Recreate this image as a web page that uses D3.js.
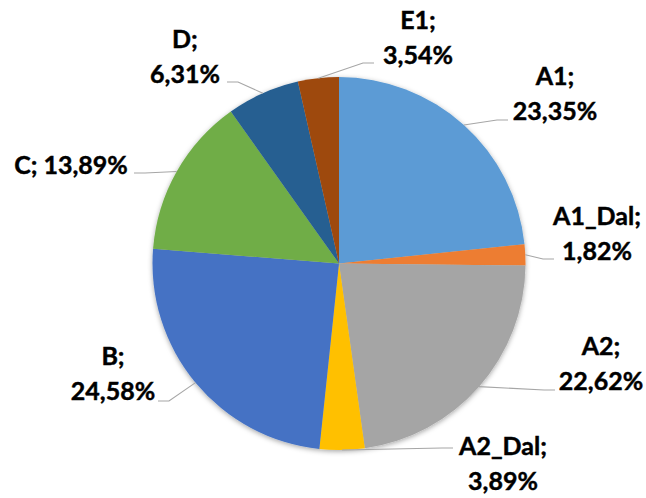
<!DOCTYPE html>
<html>
<head>
<meta charset="utf-8">
<script src="https://cdn.jsdelivr.net/npm/d3@7"></script>
<style>
  body { margin: 0; background: #fff; }
  svg { display: block; }
</style>
</head>
<body>
<svg width="646" height="498"></svg>
<script>
// slice data, clockwise from 12 o'clock
var categories = ["A1", "A1_Dal", "A2", "A2_Dal", "B", "C", "D", "E1"];
var shares = [23.35, 1.82, 22.62, 3.89, 24.58, 13.89, 6.31, 3.54];
var shareLabels = ["23,35%", "1,82%", "22,62%", "3,89%", "24,58%", "13,89%", "6,31%", "3,54%"];
var colors = ["#5b9bd5", "#ed7d31", "#a5a5a5", "#ffc000", "#4472c4", "#70ad47", "#255e91", "#9e480e"];

// label placement (as moved by hand in the original): [centre x, first baseline]
var labelAt = [[555, 85], [597, 225], [601, 355], [503, 455], [113, 365], [71, 174], [185, 48], [418, 29]];
var leaderEnd = [[508, 120], [554, 259], [555, 390], [453, 448], [158, 401], [134, 173], [227, 82], [374, 63]];
var oneLine = ["C"];

var svg = d3.select("svg"),
    cx = 339, cy = 263.5, radius = 186.5,
    lineGap = 34.5;

var defs = svg.append("defs");
var f = defs.append("filter").attr("id", "shadow")
    .attr("x", "-10%").attr("y", "-10%").attr("width", "120%").attr("height", "120%");
f.append("feDropShadow")
    .attr("dx", 0).attr("dy", 1.5)
    .attr("stdDeviation", 2.5)
    .attr("flood-color", "#000")
    .attr("flood-opacity", 0.35);

var data = categories.map(function(c, i) { return {name: c, value: shares[i], label: shareLabels[i], i: i}; });

var pie = d3.pie()
    .sort(null)
    .value(function(d) { return d.value; });

var arc = d3.arc().innerRadius(0).outerRadius(radius);
var edge = d3.arc().innerRadius(radius).outerRadius(radius);

var color = d3.scaleOrdinal().domain(categories).range(colors);

var g = svg.append("g").attr("transform", "translate(" + cx + "," + cy + ")");

g.append("g")
    .attr("filter", "url(#shadow)")
  .selectAll("path")
  .data(pie(data))
  .enter().append("path")
    .attr("d", arc)
    .attr("fill", function(d) { return color(d.data.name); });

// leader lines
svg.append("g")
  .selectAll("polyline")
  .data(pie(data))
  .enter().append("polyline")
    .attr("fill", "none")
    .attr("stroke", "#a6a6a6")
    .attr("stroke-width", 1.1)
    .attr("points", function(d) {
      var p = edge.centroid(d),
          e = leaderEnd[d.data.i],
          sx = cx + p[0], sy = cy + p[1],
          side = e[0] > sx ? -1 : 1,
          elbow = [e[0] + side * 11, e[1]];
      return [[sx, sy], elbow, e].map(function(q) { return q.join(","); }).join(" ");
    });

// labels
var labels = svg.append("g")
    .attr("font-family", "Lato, 'Liberation Sans', sans-serif")
    .attr("font-weight", "bold")
    .attr("font-size", 25)
    .attr("fill", "#000")
    .attr("stroke", "#000")
    .attr("stroke-width", 0.45)
    .attr("text-anchor", "middle")
  .selectAll("text")
  .data(data)
  .enter().append("text")
    .attr("x", function(d) { return labelAt[d.i][0]; })
    .attr("y", function(d) { return labelAt[d.i][1]; });

labels.each(function(d) {
  var t = d3.select(this);
  if (oneLine.indexOf(d.name) >= 0) {
    t.text(d.name + "; " + d.label);
  } else {
    t.append("tspan").attr("x", labelAt[d.i][0]).text(d.name + ";");
    t.append("tspan").attr("x", labelAt[d.i][0]).attr("dy", lineGap).text(d.label);
  }
});
</script>
</body>
</html>
